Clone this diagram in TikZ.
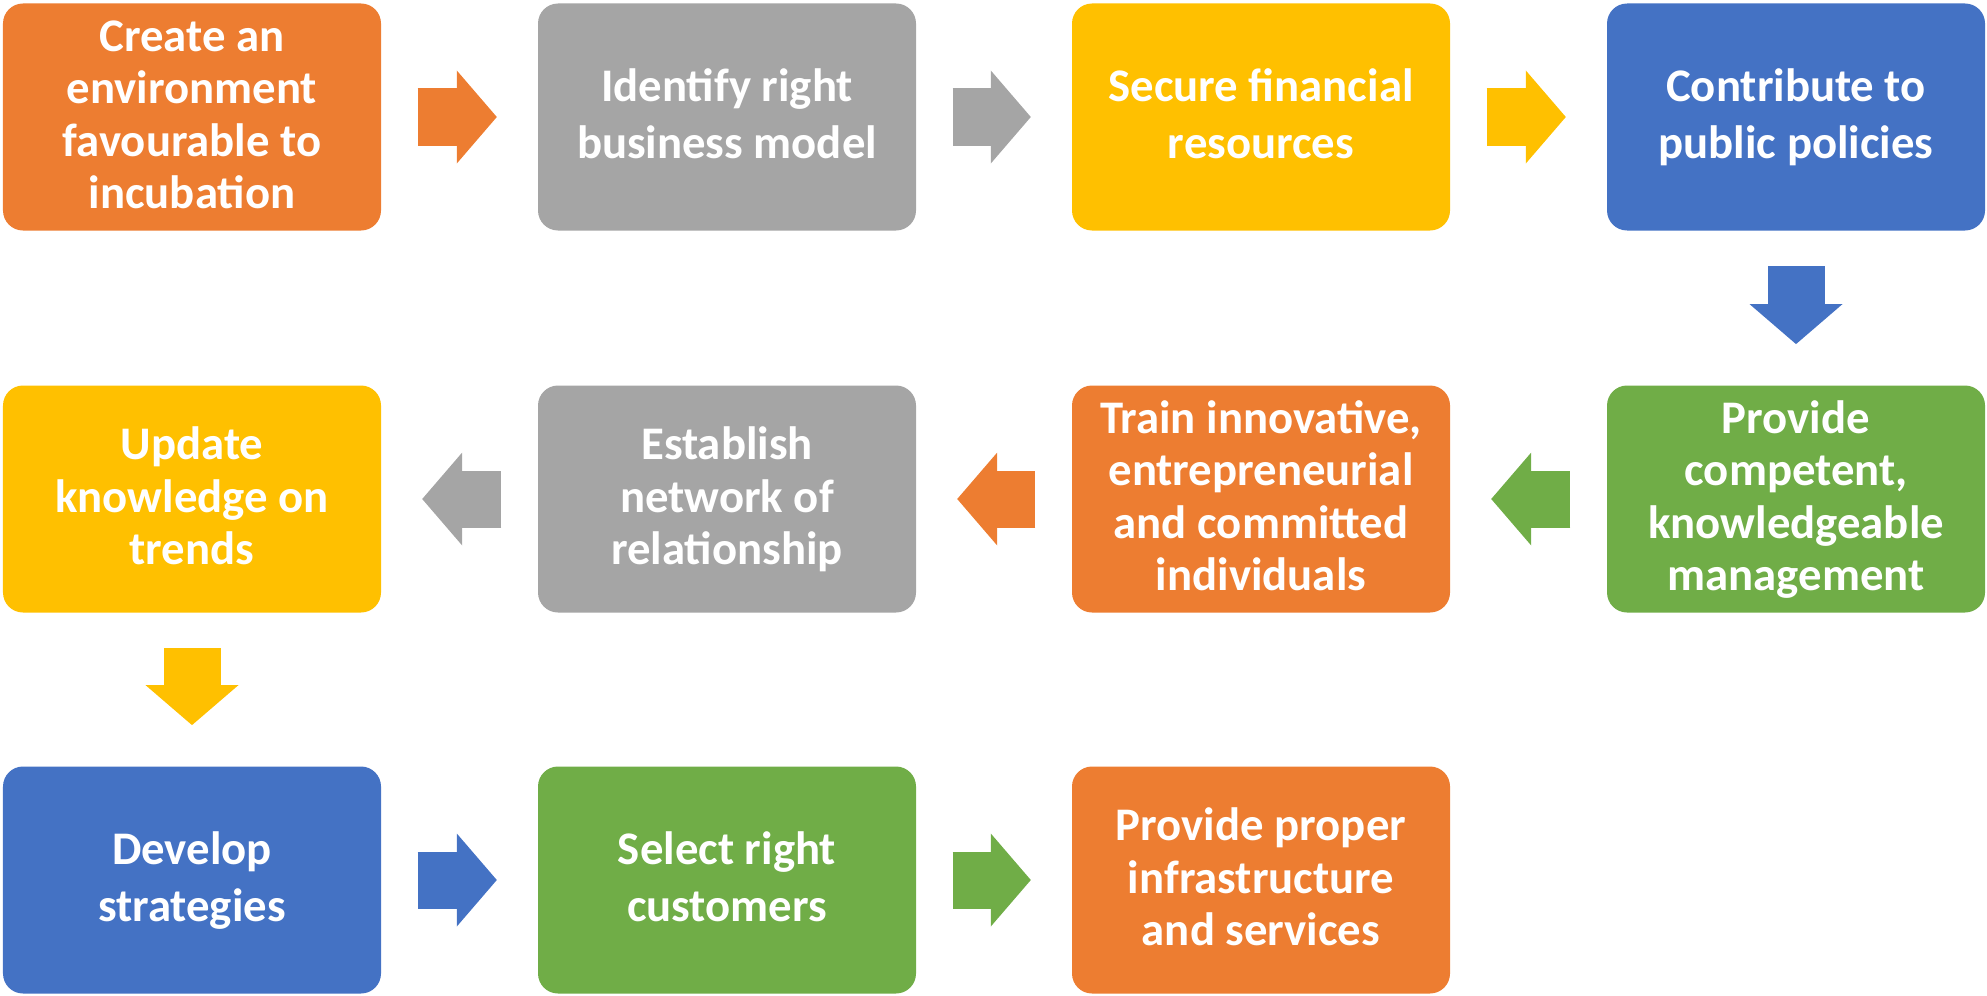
\documentclass[tikz,border=0pt]{standalone}
\usepackage{fontspec}
\setmainfont{Carlito}
\usepackage{tikz}
\usetikzlibrary{arrows.meta}

\definecolor{incorange}{HTML}{ED7D31}
\definecolor{incgray}{HTML}{A5A5A5}
\definecolor{incgold}{HTML}{FFC000}
\definecolor{incblue}{HTML}{4472C4}
\definecolor{incgreen}{HTML}{70AD47}

\newcommand{\linestrut}{\rule[-4pt]{0pt}{15.4pt}}

\tikzset{
  stepbox/.style={fill=#1, rounded corners=0.2cm, minimum width=3.78cm, minimum height=2.27cm,
    inner sep=0pt, text width=3.7cm, align=flush center, text=white,
    font=\fontsize{13.3}{14.9}\selectfont\bfseries,
    execute at begin node=\linestrut, execute at end node=\linestrut},
  blockarrow/.style={draw=#1, line width=0.57cm,
    -{Triangle[length=0.4cm, width=0.93cm, line width=0pt]}}
}

\begin{document}
\begin{tikzpicture}
    \useasboundingbox (0,0) rectangle (19.87,9.95);
    % first row
    \node[stepbox=incorange] (create) at (1.92,8.78) {Create an\\environment\\favourable to\\incubation};
    \node[stepbox=incgray] (identify) at (7.27,8.78) {Identify right\\business model};
    \node[stepbox=incgold] (secure) at (12.61,8.78) {Secure financial\\resources};
    \node[stepbox=incblue] (contribute) at (17.96,8.78) {Contribute to\\public policies};
    % second row
    \node[stepbox=incgreen] (management) at (17.96,4.96) {Provide\\competent,\\knowledgeable\\management};
    \node[stepbox=incorange] (train) at (12.61,4.96) {Train innovative,\\entrepreneurial\\and committed\\individuals};
    \node[stepbox=incgray] (network) at (7.27,4.96) {Establish\\network of\\relationship};
    \node[stepbox=incgold] (update) at (1.92,4.96) {Update\\knowledge on\\trends};
    % third row
    \node[stepbox=incblue] (develop) at (1.92,1.15) {Develop\\strategies};
    \node[stepbox=incgreen] (customers) at (7.27,1.15) {Select right\\customers};
    \node[stepbox=incorange] (infra) at (12.61,1.15) {Provide proper\\infrastructure\\and services};

    \draw[blockarrow=incorange] ([xshift=0.36cm]create.east) -- ([xshift=-0.405cm]identify.west);
    \draw[blockarrow=incgray] ([xshift=0.36cm]identify.east) -- ([xshift=-0.405cm]secure.west);
    \draw[blockarrow=incgold] ([xshift=0.36cm]secure.east) -- ([xshift=-0.405cm]contribute.west);
    \draw[blockarrow=incblue] ([yshift=-0.35cm]contribute.south) -- ([yshift=0.407cm]management.north);
    \draw[blockarrow=incgreen] ([xshift=-0.36cm]management.west) -- ([xshift=0.405cm]train.east);
    \draw[blockarrow=incorange] ([xshift=-0.36cm]train.west) -- ([xshift=0.405cm]network.east);
    \draw[blockarrow=incgray] ([xshift=-0.36cm]network.west) -- ([xshift=0.405cm]update.east);
    \draw[blockarrow=incgold] ([yshift=-0.35cm]update.south) -- ([yshift=0.407cm]develop.north);
    \draw[blockarrow=incblue] ([xshift=0.36cm]develop.east) -- ([xshift=-0.405cm]customers.west);
    \draw[blockarrow=incgreen] ([xshift=0.36cm]customers.east) -- ([xshift=-0.405cm]infra.west);
  \end{tikzpicture}
\end{document}
